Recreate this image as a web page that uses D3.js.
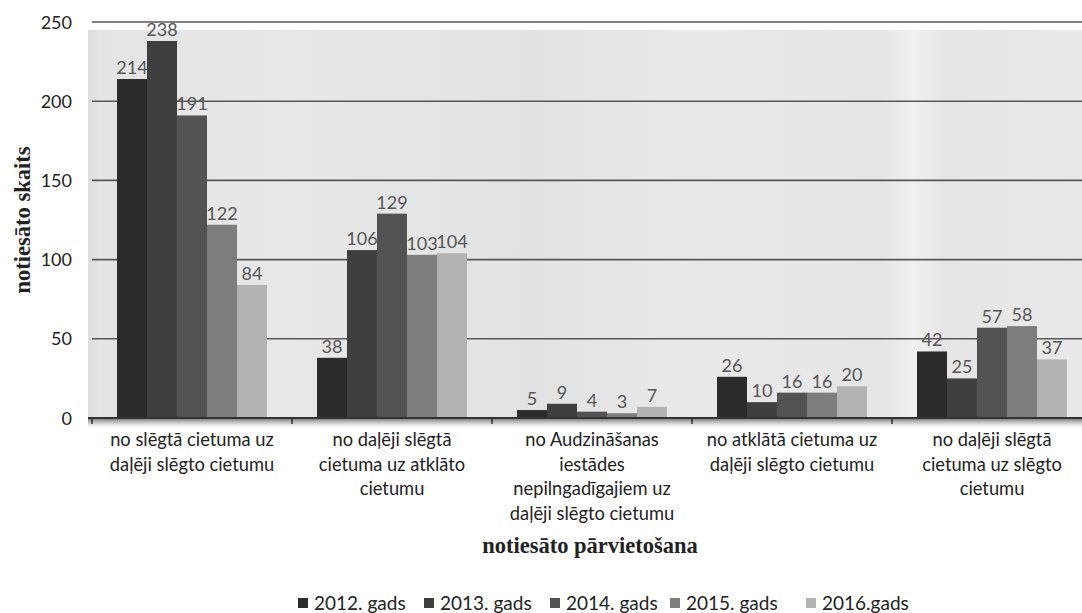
<!DOCTYPE html>
<html><head><meta charset="utf-8">
<script src="https://cdn.jsdelivr.net/npm/d3@7"></script>
<style>body{margin:0;background:#fff;} svg{display:block;}</style>
</head><body>
<svg id="c" width="1082" height="613"></svg>
<script>
const categories = [
  ["no slēgtā cietuma uz","daļēji slēgto cietumu"],
  ["no daļēji slēgtā","cietuma uz atklāto","cietumu"],
  ["no Audzināšanas","iestādes","nepilngadīgajiem uz","daļēji slēgto cietumu"],
  ["no atklātā cietuma uz","daļēji slēgto cietumu"],
  ["no daļēji slēgtā","cietuma uz slēgto","cietumu"]
];
const seriesNames = ["2012. gads","2013. gads","2014. gads","2015. gads","2016.gads"];
const v2012 = [214, 38, 5, 26, 42];
const v2013 = [238, 106, 9, 10, 25];
const v2014 = [191, 129, 4, 16, 57];
const v2015 = [122, 103, 3, 16, 58];
const v2016 = [84, 104, 7, 20, 37];
const yTicks = [0, 50, 100, 150, 200, 250];
const colors = ["#2b2b2b","#3f3f3f","#535353","#7d7d7d","#b3b3b3"];

const series = [v2012, v2013, v2014, v2015, v2016];
const svg = d3.select("#c");
const L = 92, R = 1092, T = 22, B = 418;

const x0 = d3.scaleBand().domain(d3.range(categories.length)).range([L, R]).paddingInner(0.25).paddingOuter(0.125);
const x1 = d3.scaleBand().domain(d3.range(seriesNames.length)).range([0, x0.bandwidth()]);
const y = d3.scaleLinear().domain([0, 250]).range([B, T]);

const defs = svg.append("defs");
const bg = defs.append("linearGradient").attr("id","bg").attr("x1","0").attr("x2","1").attr("y1","0").attr("y2","0");
[[0,"#dcdcdc"],[0.01,"#e4e4e4"],[0.2,"#e8e8e8"],[0.45,"#e2e2e2"],[0.6,"#e9e9e9"],[0.8,"#e6e6e6"],[0.83,"#f0f0f0"],[0.86,"#e6e6e6"],[1,"#e9e9e9"]]
  .forEach(s=>bg.append("stop").attr("offset",s[0]).attr("stop-color",s[1]));
const sh = defs.append("linearGradient").attr("id","sh").attr("x1","0").attr("x2","0").attr("y1","0").attr("y2","1");
sh.append("stop").attr("offset",0).attr("stop-color","#6a6a6a");
sh.append("stop").attr("offset",1).attr("stop-color","#ffffff").attr("stop-opacity",0);

svg.append("rect").attr("x", L-4).attr("y", y(250)+8).attr("width", 1082-(L-4)).attr("height", B - y(250) - 8).attr("fill","url(#bg)");

// gridlines
svg.append("g").selectAll("line").data(yTicks.filter(d=>d>0)).join("line")
  .attr("x1", L).attr("x2", 1082).attr("y1", d=>y(d)).attr("y2", d=>y(d))
  .attr("stroke","#575757").attr("stroke-width",1.6);

// bars
const g = svg.append("g");
categories.forEach((c, ci) => {
  series.forEach((s, si) => {
    g.append("rect")
      .attr("x", x0(ci) + x1(si)).attr("width", x1.bandwidth())
      .attr("y", y(s[ci])).attr("height", y(0) - y(s[ci]))
      .attr("fill", colors[si]);
  });
});

// shadow under axis
svg.append("rect").attr("x", L-4).attr("y", B).attr("width", 1082-(L-4)).attr("height", 12).attr("fill","url(#sh)");
// axis line
svg.append("line").attr("x1", L-4).attr("x2", 1082).attr("y1", B).attr("y2", B).attr("stroke","#333").attr("stroke-width",2);
// category ticks
const bounds = d3.range(categories.length+1).map(i => L + i * x0.step());
svg.append("g").selectAll("line").data(bounds).join("line")
  .attr("x1", d=>d).attr("x2", d=>d).attr("y1", B).attr("y2", B+6).attr("stroke","#333").attr("stroke-width",1.5);

// data labels
const lab = svg.append("g").attr("font-family","Lato, 'Open Sans', sans-serif").attr("font-size",18).attr("fill","#555").attr("text-anchor","middle");
categories.forEach((c, ci) => {
  series.forEach((s, si) => {
    lab.append("text").attr("x", x0(ci) + x1(si) + x1.bandwidth()/2).attr("y", y(s[ci]) - 5).text(s[ci]);
  });
});

// y tick labels
svg.append("g").selectAll("text").data(yTicks).join("text")
  .attr("x", 72).attr("y", d=>y(d)+6.5).attr("text-anchor","end")
  .attr("font-family","Lato, 'Open Sans', sans-serif").attr("font-size",18).attr("fill","#222")
  .text(d=>d);

// category labels
const cl = svg.append("g").attr("font-family","Lato, 'Open Sans', sans-serif").attr("font-size",18.3).attr("fill","#222").attr("text-anchor","middle");
categories.forEach((lines, ci) => {
  lines.forEach((t, li) => {
    cl.append("text").attr("x", x0(ci) + x0.bandwidth()/2).attr("y", 446 + li*24.5).text(t);
  });
});

// axis titles
svg.append("text").attr("x", 590).attr("y", 553).attr("text-anchor","middle")
  .attr("font-family","'Liberation Serif', 'DejaVu Serif', serif").attr("font-weight","bold").attr("font-size",22.5).attr("fill","#222")
  .text("notiesāto pārvietošana");
svg.append("text").attr("transform","translate(30,220) rotate(-90)").attr("text-anchor","middle")
  .attr("font-family","'Liberation Serif', 'DejaVu Serif', serif").attr("font-weight","bold").attr("font-size",22.5).attr("fill","#222")
  .text("notiesāto skaits");

// legend
const legX = [298, 424, 550, 670, 806];
const lg = svg.append("g").attr("font-family","Lato, 'Open Sans', sans-serif").attr("font-size",19).attr("fill","#222");
seriesNames.forEach((n, i) => {
  lg.append("rect").attr("x", legX[i]).attr("y", 598).attr("width", 10).attr("height", 10).attr("fill", colors[i]);
  lg.append("text").attr("x", legX[i] + 16).attr("y", 610).text(n);
});
</script>
</body></html>
